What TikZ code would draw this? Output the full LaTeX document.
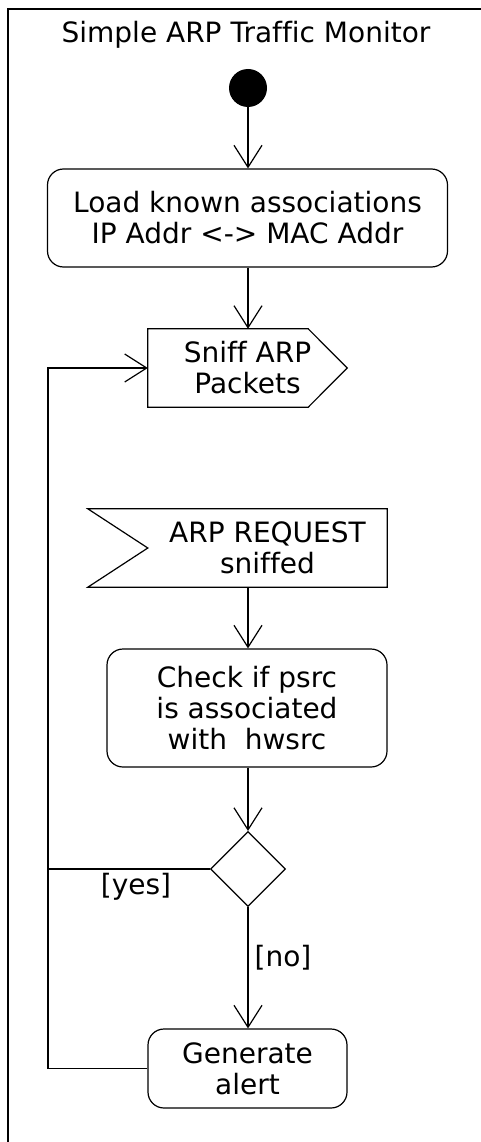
\documentclass[tikz,border=0pt]{standalone}
\usepackage{fontspec}
\setmainfont[Ligatures=NoCommon]{DejaVu Sans}
\usetikzlibrary{arrows.meta,shapes.geometric}
\begin{document}
\begin{tikzpicture}[x=1pt,y=-1pt,
  every node/.style={font=\fontsize{28}{31}\selectfont, inner sep=0pt, align=center},
  ln/.style={line width=1.2pt, draw=black},
  arr/.style={ln, -{Straight Barb[length=22pt,width=28pt,line width=1.2pt]}},
  action/.style={ln, rectangle, rounded corners=16pt},
  shapebox/.style={rectangle, draw=none}
]
\useasboundingbox (0,0) rectangle (481,1142);
\clip (0,0) rectangle (481,1142);
\draw[ln] (8,9) rectangle (540,1200);

\node (title) at (246,35) {Simple ARP Traffic Monitor};
\node[circle, fill=black, minimum size=38pt] (start) at (248,88) {};

\node[action, minimum width=400pt, minimum height=98pt] (load) at (247.5,218)
  {Load known associations\\IP Addr <-> MAC Addr};

\node[shapebox, minimum width=199pt, minimum height=78pt] (sniff) at (247.5,368)
  {Sniff ARP\\Packets};
\draw[ln] (sniff.north west) -- ([xshift=-39pt]sniff.north east) -- (sniff.east)
  -- ([xshift=-39pt]sniff.south east) -- (sniff.south west) -- cycle;

\node[shapebox, minimum width=239pt, minimum height=78pt] (accept) at (267.5,548)
  {ARP REQUEST\\sniffed};
\draw[ln] ([xshift=-60pt]accept.north west) -- (accept.north east) -- (accept.south east)
  -- ([xshift=-60pt]accept.south west) -- (accept.west) -- cycle;

\node[action, minimum width=280pt, minimum height=118pt] (check) at (247,708)
  {Check if psrc\\is associated\\with\ \ hwsrc};

\node[ln, diamond, aspect=1, minimum width=75pt, minimum height=75pt] (dec) at (248,869) {};

\node[action, minimum width=199pt, minimum height=79pt] (alert) at (247.5,1068.5)
  {Generate\\alert};

\coordinate (loopx) at (48,700);

\draw[arr] (start) -- (start |- load.north);
\draw[arr] (start |- load.south) -- (start |- sniff.north);
\draw[arr] (start |- accept.south) -- (start |- check.north);
\draw[arr] (start |- check.south) -- (dec.north);
\draw[arr] (dec.south) -- node[right=6pt, pos=0.42] (no) {[no]} (dec.south |- alert.north);
\draw[ln] (dec.west) -- (dec.west -| loopx);
\node (yes) at (136,887) {[yes]};
\draw[arr] (alert.west) -| (loopx) |- (sniff.west);
\end{tikzpicture}
\end{document}
